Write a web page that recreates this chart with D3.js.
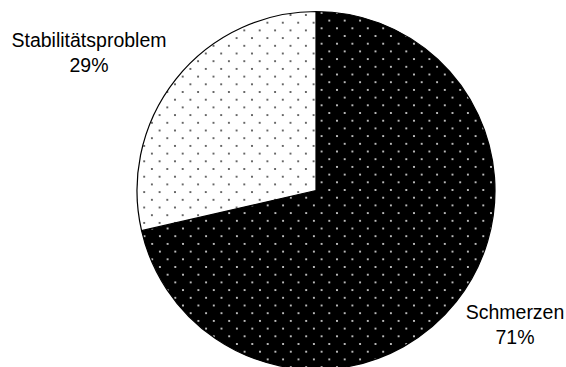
<!DOCTYPE html>
<html>
<head>
<meta charset="utf-8">
<script src="https://cdn.jsdelivr.net/npm/d3@7"></script>
<style>
  html, body { margin: 0; padding: 0; background: #fff; }
  svg { display: block; }
  text { font-family: "Liberation Sans", Arial, sans-serif; fill: #000; }
</style>
</head>
<body>
<svg id="chart" width="566" height="367"></svg>
<script>
// Categories and their shares (in percent)
const categories = ["Schmerzen", "Stabilitätsproblem"];
const shares = [71.4, 28.6];

const width = 566, height = 367;
const cx = 316, cy = 190.5, radius = 179;

// Fill styles per category: base colour, dot colour, dot grid phase
const fills = [
  { id: "dotsDark",  base: "#000", dot: "#e8e8e8", x: 325.15, y: 111.15 },
  { id: "dotsLight", base: "#fff", dot: "#404040", x: 309.45, y: 97.85 }
];
// Label anchors (centre of the two-line label, first baseline)
const labelPos = [
  { x: 515, y: 319 },
  { x: 89,  y: 47.3 }
];

const svg = d3.select("#chart");
const defs = svg.append("defs");
const step = 15.4, half = step / 2;

fills.forEach(f => {
  const p = defs.append("pattern")
    .attr("id", f.id)
    .attr("patternUnits", "userSpaceOnUse")
    .attr("x", f.x).attr("y", f.y)
    .attr("width", step).attr("height", step);
  p.append("rect").attr("width", step).attr("height", step).attr("fill", f.base);
  [[half / 2, half / 2], [half / 2 + half, half / 2 + half]].forEach(([dx, dy]) => {
    p.append("circle").attr("cx", dx).attr("cy", dy).attr("r", 1.05).attr("fill", f.dot);
  });
});

const data = categories.map((c, i) => ({ name: c, value: shares[i], i }));

const pie = d3.pie().sort(null).value(d => d.value);
const arc = d3.arc().innerRadius(0).outerRadius(radius);

const g = svg.append("g").attr("transform", `translate(${cx},${cy})`);

g.selectAll("path.slice")
  .data(pie(data))
  .join("path")
  .attr("class", "slice")
  .attr("d", arc)
  .attr("fill", d => `url(#${fills[d.data.i].id})`)
  .attr("stroke", "#000")
  .attr("stroke-width", 1.2)
  .attr("stroke-linejoin", "round");

const fmt = d3.format(".0f");
const labels = svg.selectAll("text.lbl")
  .data(data)
  .join("text")
  .attr("class", "lbl")
  .attr("text-anchor", "middle")
  .attr("font-size", "19.5px")
  .attr("x", d => labelPos[d.i].x)
  .attr("y", d => labelPos[d.i].y);

labels.append("tspan")
  .attr("x", d => labelPos[d.i].x)
  .text(d => d.name);
labels.append("tspan")
  .attr("x", d => labelPos[d.i].x)
  .attr("dy", 24.8)
  .text(d => fmt(d.value) + "%");
</script>
</body>
</html>
